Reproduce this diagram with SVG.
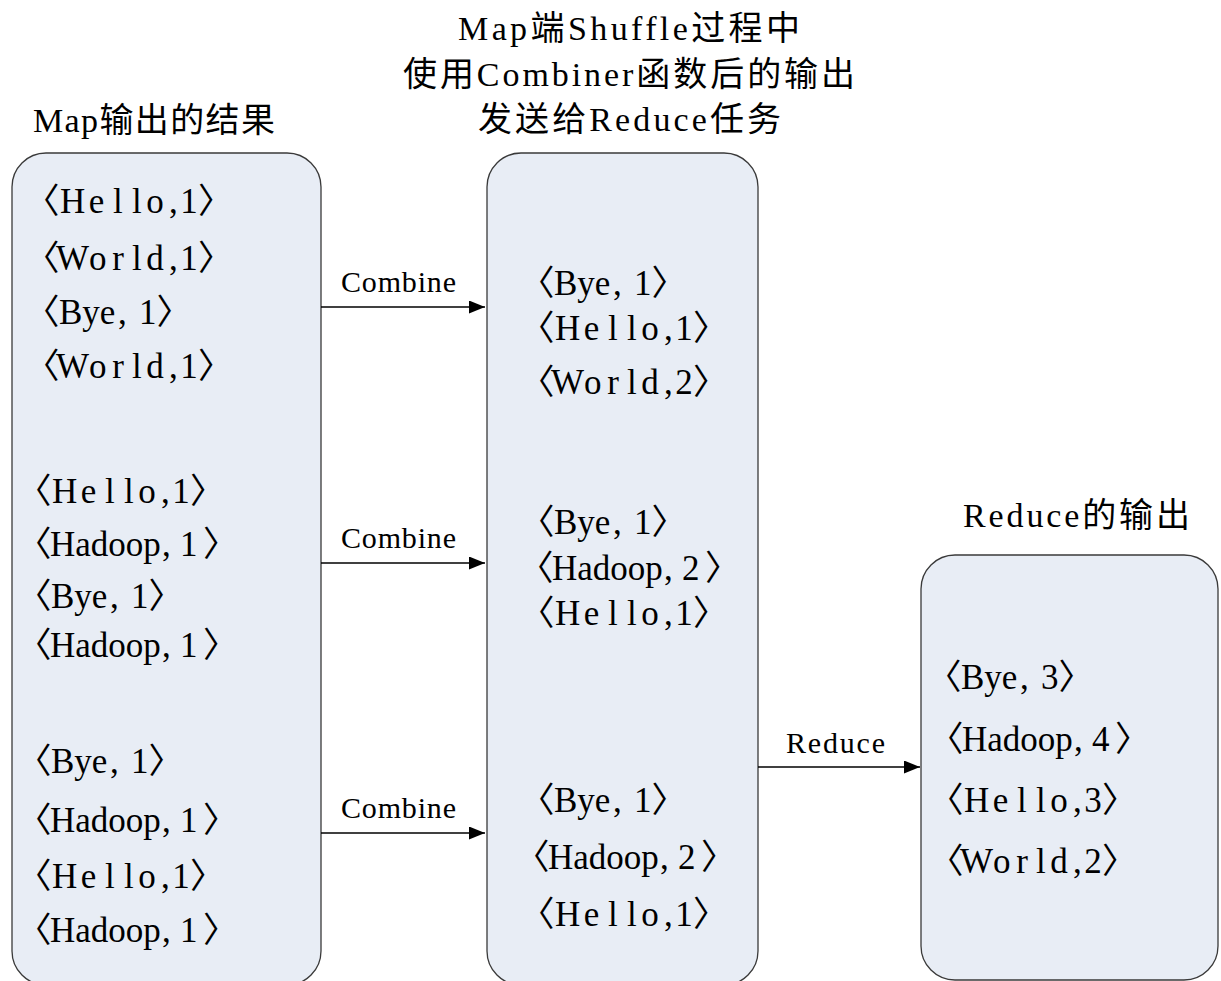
<svg xmlns="http://www.w3.org/2000/svg" width="1221" height="981" viewBox="0 0 1221 981">
<defs>
<style>
.box{fill:#e8edf5;stroke:#3a3a3a;stroke-width:1.3}
.e{font-family:"Liberation Serif","Noto Sans CJK SC",serif;font-size:35px;fill:#000}
.h{font-family:"Liberation Serif","Noto Sans CJK SC",serif;font-size:34px;fill:#000}
.l{font-family:"Liberation Serif",serif;font-size:30px;fill:#000}
.c{stroke:#000;stroke-width:1.3;fill:none}
</style>
<marker id="ah" viewBox="0 0 16 13" refX="16" refY="6.5" markerWidth="16" markerHeight="13" markerUnits="userSpaceOnUse" orient="auto">
<path d="M0,0 L16,6.5 L0,13 Z" fill="#000"/>
</marker>
</defs>
<rect width="1221" height="981" fill="#fff"/>
<g id="titles">
<text class="h" x="33" y="132" textLength="242" lengthAdjust="spacing">Map输出的结果</text>
<text class="h" x="458" y="40" textLength="342" lengthAdjust="spacing">Map端Shuffle过程中</text>
<text class="h" x="403" y="86" textLength="452" lengthAdjust="spacing">使用Combiner函数后的输出</text>
<text class="h" x="478" y="131" textLength="303" lengthAdjust="spacing">发送给Reduce任务</text>
<text class="h" x="963" y="527" textLength="227" lengthAdjust="spacing">Reduce的输出</text>
</g>
<g id="map-output">
<rect class="box" x="12" y="153" width="309" height="832" rx="34" ry="34"/>
<text class="e" y="213" x="24.5 59.9 88.7 113.1 132.1 146.25 169.1 180.25 198">〈Hello,1〉</text>
<text class="e" y="270" x="24.5 56 89 112.2 132.1 146.25 169.1 180.25 198">〈World,1〉</text>
<text class="e" y="324"><tspan x="24.5">〈</tspan><tspan x="59">Bye</tspan><tspan x="118">,</tspan><tspan x="139">1</tspan><tspan x="156.5">〉</tspan></text>
<text class="e" y="378" x="24.5 56 89 112.2 132.1 146.25 169.1 180.25 198">〈World,1〉</text>
<text class="e" y="503" x="16.5 51.9 80.7 105.1 124.1 138.25 161.1 172.25 190">〈Hello,1〉</text>
<text class="e" y="556"><tspan x="16.5">〈</tspan><tspan x="50">Hadoop</tspan><tspan x="162">,</tspan><tspan x="180">1</tspan><tspan x="203">〉</tspan></text>
<text class="e" y="608"><tspan x="16.5">〈</tspan><tspan x="51">Bye</tspan><tspan x="110">,</tspan><tspan x="131">1</tspan><tspan x="148.5">〉</tspan></text>
<text class="e" y="657"><tspan x="16.5">〈</tspan><tspan x="50">Hadoop</tspan><tspan x="162">,</tspan><tspan x="180">1</tspan><tspan x="203">〉</tspan></text>
<text class="e" y="773"><tspan x="16.5">〈</tspan><tspan x="51">Bye</tspan><tspan x="110">,</tspan><tspan x="131">1</tspan><tspan x="148.5">〉</tspan></text>
<text class="e" y="832"><tspan x="16.5">〈</tspan><tspan x="50">Hadoop</tspan><tspan x="162">,</tspan><tspan x="180">1</tspan><tspan x="203">〉</tspan></text>
<text class="e" y="888" x="16.5 51.9 80.7 105.1 124.1 138.25 161.1 172.25 190">〈Hello,1〉</text>
<text class="e" y="942"><tspan x="16.5">〈</tspan><tspan x="50">Hadoop</tspan><tspan x="162">,</tspan><tspan x="180">1</tspan><tspan x="203">〉</tspan></text>
</g>
<g id="combiner-output">
<rect class="box" x="487" y="153" width="271" height="832" rx="34" ry="34"/>
<text class="e" y="295"><tspan x="519.5">〈</tspan><tspan x="554">Bye</tspan><tspan x="613">,</tspan><tspan x="634">1</tspan><tspan x="651.5">〉</tspan></text>
<text class="e" y="340" x="519.5 554.9 583.7 608.1 627.1 641.25 664.1 675.25 693">〈Hello,1〉</text>
<text class="e" y="394" x="519.5 551 584 607.2 627.1 641.25 664.1 675.25 693">〈World,2〉</text>
<text class="e" y="534"><tspan x="519.5">〈</tspan><tspan x="554">Bye</tspan><tspan x="613">,</tspan><tspan x="634">1</tspan><tspan x="651.5">〉</tspan></text>
<text class="e" y="580"><tspan x="518.5">〈</tspan><tspan x="552">Hadoop</tspan><tspan x="664">,</tspan><tspan x="682">2</tspan><tspan x="705">〉</tspan></text>
<text class="e" y="625" x="519.5 554.9 583.7 608.1 627.1 641.25 664.1 675.25 693">〈Hello,1〉</text>
<text class="e" y="812"><tspan x="519.5">〈</tspan><tspan x="554">Bye</tspan><tspan x="613">,</tspan><tspan x="634">1</tspan><tspan x="651.5">〉</tspan></text>
<text class="e" y="869"><tspan x="514.5">〈</tspan><tspan x="548">Hadoop</tspan><tspan x="660">,</tspan><tspan x="678">2</tspan><tspan x="701">〉</tspan></text>
<text class="e" y="926" x="519.5 554.9 583.7 608.1 627.1 641.25 664.1 675.25 693">〈Hello,1〉</text>
</g>
<g id="reduce-output">
<rect class="box" x="921" y="555" width="297" height="425" rx="34" ry="34"/>
<text class="e" y="689"><tspan x="926.5">〈</tspan><tspan x="961">Bye</tspan><tspan x="1020">,</tspan><tspan x="1041">3</tspan><tspan x="1058.5">〉</tspan></text>
<text class="e" y="751"><tspan x="928.5">〈</tspan><tspan x="962">Hadoop</tspan><tspan x="1074">,</tspan><tspan x="1092">4</tspan><tspan x="1115">〉</tspan></text>
<text class="e" y="812" x="928.5 963.9 992.7 1017.1 1036.1 1050.25 1073.1 1084.25 1102">〈Hello,3〉</text>
<text class="e" y="873" x="928.5 960 993 1016.2 1036.1 1050.25 1073.1 1084.25 1102">〈World,2〉</text>
</g>
<g id="connectors">
<line class="c" x1="321" y1="307" x2="485" y2="307" marker-end="url(#ah)"/>
<line class="c" x1="321" y1="563" x2="485" y2="563" marker-end="url(#ah)"/>
<line class="c" x1="321" y1="833" x2="485" y2="833" marker-end="url(#ah)"/>
<line class="c" x1="758" y1="767" x2="920" y2="767" marker-end="url(#ah)"/>
<text class="l" x="341" y="292" textLength="115" lengthAdjust="spacing">Combine</text>
<text class="l" x="341" y="548" textLength="115" lengthAdjust="spacing">Combine</text>
<text class="l" x="341" y="818" textLength="115" lengthAdjust="spacing">Combine</text>
<text class="l" x="786" y="753" textLength="99" lengthAdjust="spacing">Reduce</text>
</g>
</svg>
